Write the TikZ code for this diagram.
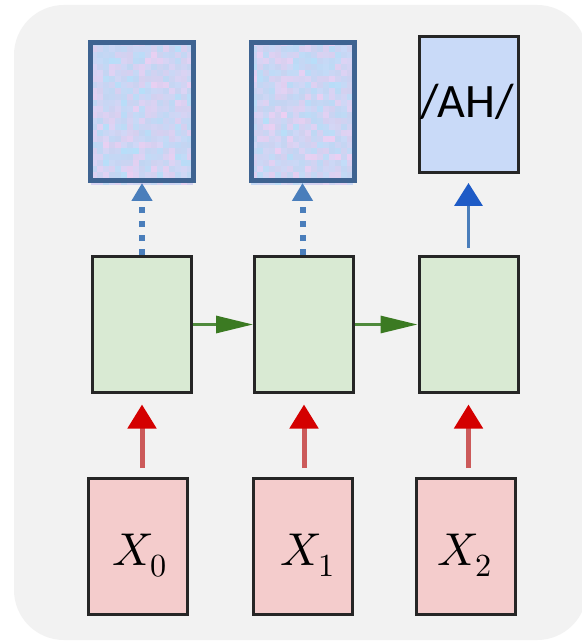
\documentclass[tikz,border=0pt]{standalone}
\usepackage{fontspec}
\usepackage{unicode-math}
\newfontfamily\carlitofont{Carlito}
\usetikzlibrary{arrows.meta}
\definecolor{bgcol}{HTML}{F2F2F2}
\definecolor{topedge}{HTML}{3E6391}
\definecolor{texA}{HTML}{B4E0FA}
\definecolor{texB}{HTML}{EECFF2}
\definecolor{texC}{HTML}{C8D0EE}
\definecolor{ahfill}{HTML}{C9DAF8}
\definecolor{greenfill}{HTML}{D9EAD3}
\definecolor{pinkfill}{HTML}{F4CCCC}
\definecolor{dotblue}{HTML}{4A7EBB}
\definecolor{lineblue}{HTML}{4A7EBB}
\definecolor{headblue}{HTML}{1E5BC6}
\definecolor{linered}{HTML}{CC5A5A}
\definecolor{headred}{HTML}{D40000}
\definecolor{linegreen}{HTML}{4F8A3C}
\definecolor{headgreen}{HTML}{3B7A22}
\tikzset{
  topbox/.style={draw=topedge, line width=5pt, minimum width=103pt, minimum height=138pt, inner sep=0pt},
  ahbox/.style={draw=black!85, fill=ahfill, line width=3pt, minimum width=99pt, minimum height=136pt, inner sep=0pt},
  hidbox/.style={draw=black!85, fill=greenfill, line width=3pt, minimum width=99pt, minimum height=136pt, inner sep=0pt},
  inbox/.style={draw=black!85, fill=pinkfill, line width=3pt, minimum width=99pt, minimum height=136pt, inner sep=0pt},
  xlbl/.style={font=\fontsize{46}{50}\selectfont, inner sep=0pt, anchor=base},
  ahlbl/.style={font=\carlitofont\fontsize{48}{52}\selectfont, inner sep=0pt, anchor=base},
  dotarrow/.style={draw=dotblue, line width=6pt, dash pattern=on 6pt off 8pt, -{Triangle[length=18pt,width=20pt]}},
  bluearrow/.style={draw=lineblue, line width=3.5pt, -{Triangle[length=23pt,width=28pt,color=headblue]}},
  redarrow/.style={draw=linered, line width=5pt, -{Triangle[length=24pt,width=28pt,color=headred]}},
  grarrow/.style={draw=linegreen, line width=3pt, -{Triangle[length=37pt,width=17pt,color=headgreen]}}
}
\begin{document}
\begin{tikzpicture}[x=1pt,y=-1pt]
\useasboundingbox (0,0) rectangle (581,644);
\fill[white] (0,0) rectangle (581,644);
\fill[bgcol, rounded corners=50pt] (14,5) rectangle (587,640);
% texture of the two top boxes
\pgfmathsetseed{11}
\foreach \bx in {90.5,250.5}{
  \foreach \i in {0,...,16}{
    \foreach \j in {0,...,23}{
      \pgfmathrandominteger{\ra}{0}{100}
      \pgfmathrandominteger{\rb}{35}{95}
      \fill[texA!\ra!texB!\rb!texC] (\bx+\i*6,40.5+\j*6) rectangle ++(6.05,6.05);
    }
  }
}
% top boxes
\node[topbox] (t1) at (142,111.5) {};
\node[topbox] (t2) at (302.5,111.5) {};
\node[ahbox] (ah) at (469,104.5) {};
\node[ahlbl] (ahl) at (467.5,118) {/AH/};
% hidden boxes
\node[hidbox] (g1) at (142,324.5) {};
\node[hidbox] (g2) at (304,324.5) {};
\node[hidbox] (g3) at (468.5,324.5) {};
% input boxes
\node[inbox] (p1) at (138,546.5) {};
\node[inbox] (p2) at (302.5,546.5) {};
\node[inbox] (p3) at (466,546.5) {};
\node[xlbl] (x0) at (140,565) {$X_0$};
\node[xlbl] (x1) at (308,565) {$X_1$};
\node[xlbl] (x2) at (465,565) {$X_2$};
% arrows
\draw[dotarrow] (g1.north) -- (g1.north |- t1.south);
\draw[dotarrow] (g2.north -| t2.south) -- (t2.south);
\draw[bluearrow, shorten <=7pt, shorten >=9pt] (g3.north) -- (g3.north |- ah.south);
\draw[grarrow] (g1.east) -- (g2.west);
\draw[grarrow] (g2.east) -- (g3.west);
\draw[redarrow, shorten <=9pt, shorten >=10.5pt] (g1.south |- p1.north) -- (g1.south);
\draw[redarrow, shorten <=9pt, shorten >=10.5pt] (g2.south |- p2.north) -- (g2.south);
\draw[redarrow, shorten <=9pt, shorten >=10.5pt] (g3.south |- p3.north) -- (g3.south);
\end{tikzpicture}
\end{document}
